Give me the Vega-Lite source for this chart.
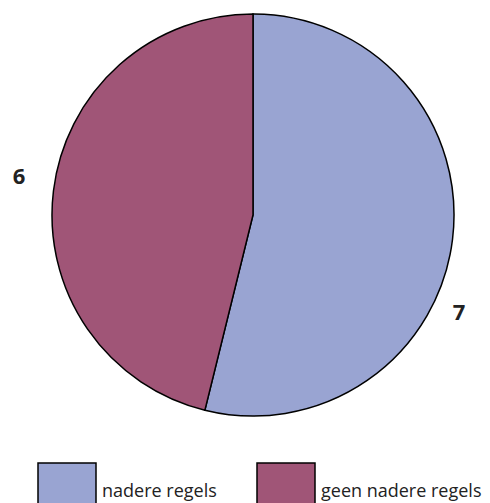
{
  "$schema": "https://vega.github.io/schema/vega-lite/v6.json",
  "width": 478,
  "height": 430,
  "padding": {"left": 12, "top": 0, "right": 0, "bottom": 0},
  "autosize": {"type": "pad"},
  "background": "white",
  "config": {"view": {"stroke": null}, "font": "Open Sans"},
  "data": {"values": [
    {"category": "nadere regels", "value": 7, "rank": 1},
    {"category": "geen nadere regels", "value": 6, "rank": 2}
  ]},
  "transform": [
    {"stack": "value", "groupby": [], "sort": [{"field": "rank", "order": "ascending"}], "as": ["v0", "v1"]}
  ],
  "layer": [
    {
      "mark": {"type": "arc", "radius": 201, "stroke": "black", "strokeWidth": 1.5},
      "encoding": {
        "theta": {"field": "v0", "type": "quantitative", "scale": {"domain": [0, 13]}},
        "theta2": {"field": "v1"},
        "color": {
          "field": "category",
          "type": "nominal",
          "scale": {"domain": ["nadere regels", "geen nadere regels"], "range": ["#99a4d2", "#a05577"]},
          "legend": {
            "orient": "none",
            "direction": "horizontal",
            "legendX": 23,
            "legendY": 462,
            "title": null,
            "symbolType": "square",
            "symbolSize": 3364,
            "symbolStrokeColor": "black",
            "symbolStrokeWidth": 1.5,
            "symbolOpacity": 1,
            "labelFontSize": 18,
            "labelFont": "Open Sans",
            "labelColor": "#222222",
            "labelOffset": 5,
            "labelLimit": 300,
            "labelBaseline": "middle",
            "columnPadding": 37,
            "padding": 0
          }
        }
      }
    },
    {
      "transform": [{"filter": "datum.category === 'nadere regels'"}],
      "mark": {"type": "text", "radius": 228, "thetaOffset": 2.014, "fontSize": 22, "fontWeight": "bold", "color": "#222222", "align": "center", "baseline": "middle"},
      "encoding": {
        "theta": {"field": "v0", "type": "quantitative"},
        "text": {"field": "value", "type": "quantitative"}
      }
    },
    {
      "transform": [{"filter": "datum.category === 'geen nadere regels'"}],
      "mark": {"type": "text", "radius": 237, "thetaOffset": 1.49, "fontSize": 22, "fontWeight": "bold", "color": "#222222", "align": "center", "baseline": "middle"},
      "encoding": {
        "theta": {"field": "v0", "type": "quantitative"},
        "text": {"field": "value", "type": "quantitative"}
      }
    }
  ]
}
